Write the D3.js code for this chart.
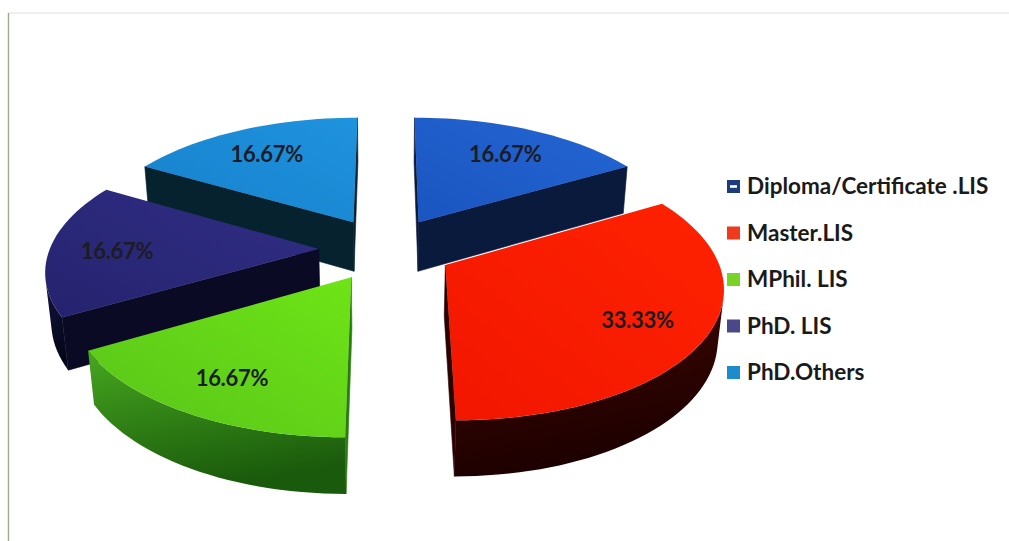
<!DOCTYPE html>
<html>
<head>
<meta charset="utf-8">
<script src="https://cdn.jsdelivr.net/npm/d3@7/dist/d3.min.js"></script>
<style>
  html, body { margin: 0; padding: 0; background: #ffffff; }
  svg { display: block; }
</style>
</head>
<body>
<svg id="chart" width="1009" height="541"></svg>
<script>
// Qualification shares (percent of respondents)
const categories = ["Diploma/Certificate .LIS", "Master.LIS", "MPhil. LIS", "PhD. LIS", "PhD.Others"];
const shares = [16.67, 33.33, 16.67, 16.67, 16.67];
const valueLabels = ["16.67%", "33.33%", "16.67%", "16.67%", "16.67%"];

// Slice colours: top face, outer rim (light/dark), cut face
const topLight  = ["#2466d4", "#ff2200", "#6ee416", "#312e86", "#1f93de"];
const topDark   = ["#1a55c0", "#f21600", "#58c41a", "#25236e", "#1780cc"];
const rimLight  = ["#0d2250", "#420800", "#47a81f", "#14143e", "#07283a"];
const rimDark   = ["#050d24", "#1c0000", "#1a5a0c", "#05051a", "#03121c"];
const cutColors = ["#0a1a3c", "#2a0200", "#2c7a14", "#0a0a24", "#06222e"];
const legendColors = ["#1c3c7c", "#f03a1e", "#78d424", "#4a4888", "#1c8ccc"];

const svg = d3.select("#chart");
const W = 1009, Hpx = 541;

// frame lines
svg.append("line").attr("x1", 8).attr("y1", 13).attr("x2", W).attr("y2", 13)
  .attr("stroke", "#e2e2e2").attr("stroke-width", 1.2);
svg.append("line").attr("x1", 8.5).attr("y1", 13).attr("x2", 8.5).attr("y2", Hpx)
  .attr("stroke", "#9eab8e").attr("stroke-width", 1.4);

// 3D view: tilt, camera distance, focal scale, and centre on screen
const phi = 30 * Math.PI / 180;
const camDist = 6, focal = 1585, cx = 386, cy = 299;
const radius = d3.scaleLinear().domain([0, 1]).range([0, 1]);
const thickness = 0.215, explode = 0.25, labelR = 0.75;
const sinP = Math.sin(phi), cosP = Math.cos(phi);
const cam = { u: 0, v: -camDist * cosP, y: camDist * sinP };

function project(p) {
  const up = p.v * sinP + p.y * cosP;
  const depth = camDist + p.v * cosP - p.y * sinP;
  return [cx + p.u * focal / depth, cy - up * focal / depth];
}
function facing(n, p) {
  return n.u * (p.u - cam.u) + n.v * (p.v - cam.v) + n.y * (p.y - cam.y) < 0;
}

const pie = d3.pie().sort(null).value(d => d);
const arcs = pie(shares);

const line = d3.line().curve(d3.curveLinearClosed);
const defs = svg.append("defs");

function grad(id, c1, c2, x1, y1, x2, y2) {
  const g = defs.append("linearGradient").attr("id", id)
    .attr("x1", x1).attr("y1", y1).attr("x2", x2).attr("y2", y2);
  g.append("stop").attr("offset", "0%").attr("stop-color", c1);
  g.append("stop").attr("offset", "100%").attr("stop-color", c2);
  return "url(#" + id + ")";
}

const slices = arcs.map((a, i) => {
  const mid = (a.startAngle + a.endAngle) / 2;
  const ou = explode * Math.sin(mid), ov = explode * Math.cos(mid);
  const pt = (th, r, y) => ({ u: ou + radius(r) * Math.sin(th), v: ov + radius(r) * Math.cos(th), y: y });
  return { a, i, mid, ou, ov, pt, depthKey: ov + 0.5 * Math.cos(mid) };
});

// far slices first
slices.sort((s, t) => t.depthKey - s.depthKey);

const pieG = svg.append("g");

slices.forEach(s => {
  const { a, i, pt } = s;
  const g = pieG.append("g");
  const a0 = a.startAngle, a1 = a.endAngle;
  const steps = Math.max(8, Math.round((a1 - a0) / (Math.PI / 90)));

  // cut faces along the two radii
  const cuts = [
    { th: a0, n: { u: -Math.cos(a0), v: Math.sin(a0), y: 0 } },
    { th: a1, n: { u: Math.cos(a1), v: -Math.sin(a1), y: 0 } }
  ];
  cuts.forEach(c => {
    const pts = [pt(c.th, 0, thickness), pt(c.th, 1, thickness), pt(c.th, 1, 0), pt(c.th, 0, 0)];
    const m = pt(c.th, 0.5, thickness / 2);
    if (facing(c.n, m)) {
      g.append("path").attr("d", line(pts.map(project)))
        .attr("fill", cutColors[i]).attr("stroke", cutColors[i]).attr("stroke-width", 0.6);
    }
  });

  // outer rim: visible runs of the curved side
  const vis = [];
  for (let k = 0; k < steps; k++) {
    const th = a0 + (a1 - a0) * (k + 0.5) / steps;
    vis.push(facing({ u: Math.sin(th), v: Math.cos(th), y: 0 }, pt(th, 1, thickness / 2)));
  }
  let k = 0;
  let run = 0;
  while (k < steps) {
    if (!vis[k]) { k++; continue; }
    let e = k;
    while (e < steps && vis[e]) e++;
    const topPts = [], botPts = [];
    for (let j = k; j <= e; j++) {
      const th = a0 + (a1 - a0) * j / steps;
      topPts.push(project(pt(th, 1, thickness)));
      botPts.push(project(pt(th, 1, 0)));
    }
    const fill = grad("rim" + i + "_" + run, rimLight[i], rimDark[i], "0%", "0%", "30%", "100%");
    g.append("path").attr("d", line(topPts.concat(botPts.reverse())))
      .attr("fill", fill);
    run++;
    k = e;
  }

  // top face
  const topPts = [project(pt(0, 0, thickness))];
  for (let j = 0; j <= steps; j++) {
    topPts.push(project(pt(a0 + (a1 - a0) * j / steps, 1, thickness)));
  }
  g.append("path").attr("d", line(topPts))
    .attr("fill", grad("top" + i, topLight[i], topDark[i], "100%", "0%", "0%", "100%"));
});

// value labels on the top faces
slices.forEach(s => {
  const p = project(s.pt(s.mid, labelR, thickness));
  svg.append("text")
    .attr("x", p[0]).attr("y", p[1] + 2)
    .attr("text-anchor", "middle").attr("dominant-baseline", "central")
    .attr("font-family", "Lato, 'Open Sans', sans-serif")
    .attr("font-weight", 700).attr("font-size", 22)
    .attr("letter-spacing", -0.3)
    .attr("fill", "#1c1c24")
    .text(valueLabels[s.i]);
});

// legend
const legend = svg.append("g").attr("transform", "translate(727,0)");
const rowY = d3.scalePoint().domain(categories).range([194, 380]);
categories.forEach((c, i) => {
  const y = rowY(c);
  legend.append("rect").attr("x", 0).attr("y", y - 14).attr("width", 13).attr("height", 13)
    .attr("fill", legendColors[i]);
  if (i === 0) {
    legend.append("rect").attr("x", 3).attr("y", y - 8.8).attr("width", 7).attr("height", 2.6)
      .attr("fill", "#ffffff");
  }
  legend.append("text").attr("x", 20).attr("y", y)
    .attr("font-family", "Lato, 'Open Sans', sans-serif")
    .attr("font-weight", 700).attr("font-size", 22.5)
    .attr("fill", "#1a1a1a")
    .text(c);
});
</script>
</body>
</html>
